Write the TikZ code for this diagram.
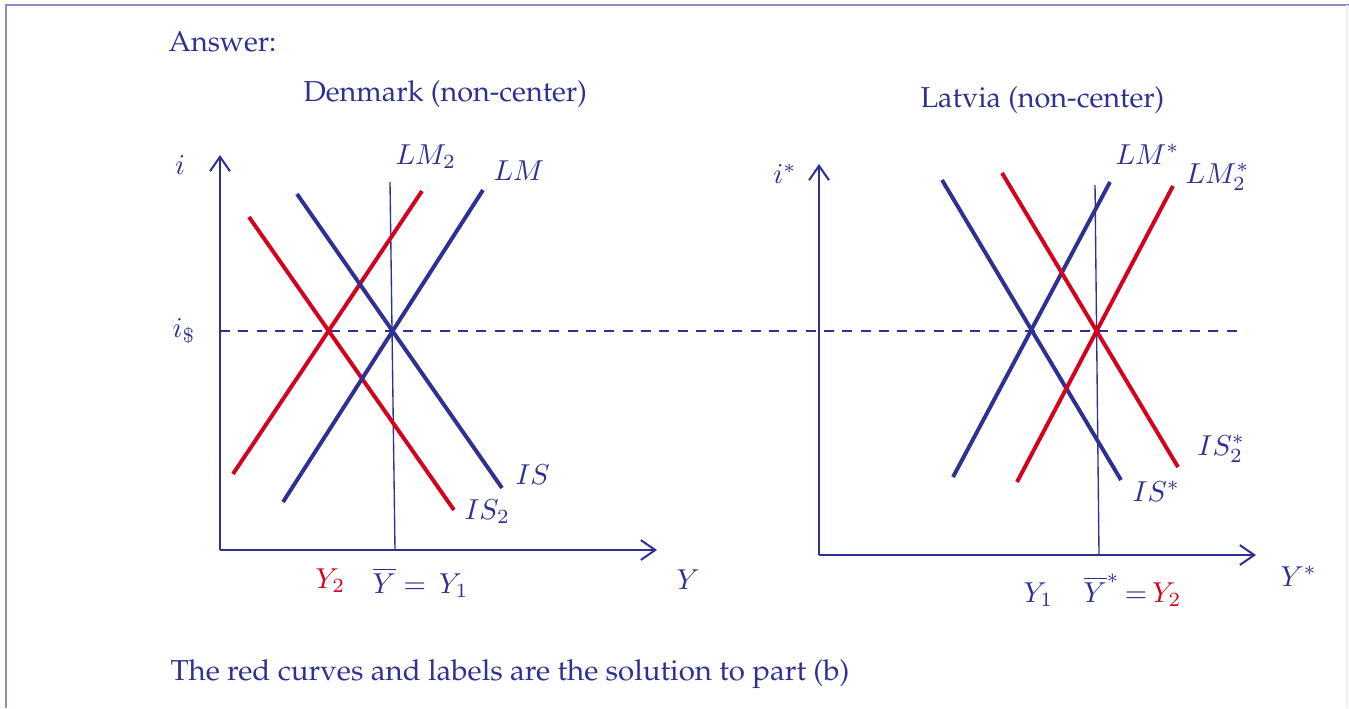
\documentclass[tikz,border=0pt]{standalone}
\usepackage[T1]{fontenc}
\renewcommand{\rmdefault}{ppl}
\usepackage{graphicx}
\usepackage{amsmath,amssymb}
\usetikzlibrary{arrows.meta}
\definecolor{econblue}{HTML}{2E3192}
\definecolor{econred}{HTML}{D5001C}
\definecolor{framecol}{HTML}{8A8AC4}
\tikzset{
  axisline/.style={econblue,line width=0.7pt,-{Straight Barb[length=5pt,width=6.9pt]}},
  bluecurve/.style={econblue,line width=1.37pt},
  redcurve/.style={econred,line width=1.37pt},
  potline/.style={econblue,line width=0.47pt},
  lbl/.style={econblue,anchor=base west,inner sep=0pt},
}

\begin{document}
\begin{tikzpicture}[x=34.7pt,y=-34.7pt]
  \useasboundingbox (0,0) rectangle (13.49,7.08);
  % frame
  \draw[framecol,line width=0.63pt] (0.06,7.08) -- (0.06,0.05) -- (13.49,0.05);
  \draw[black!6,line width=0.63pt] (13.47,0.05) -- (13.47,7.08);

  % headings
  \node[lbl] (answer) at (1.68,0.51) {Answer:};
  \node[lbl] (denmark) at (3.03,1.01) {Denmark (non-center)};
  \node[lbl] (latvia) at (9.20,1.07) {Latvia (non-center)};

  % Denmark
  \draw[axisline] (2.20,5.50) -- (2.20,1.55);
  \draw[axisline] (2.20,5.50) -- (6.57,5.50);
  \draw[econblue,line width=0.58pt,dash pattern=on 3.5pt off 2.85pt] (2.20,3.31) -- (12.38,3.31);
  \draw[potline] (3.90,1.82) -- (3.95,5.50);
  \draw[redcurve] (2.49,2.17) -- (4.54,5.10);
  \draw[redcurve] (2.33,4.74) -- (4.22,1.91);
  \draw[bluecurve] (2.97,1.94) -- (5.02,4.88);
  \draw[bluecurve] (2.83,5.02) -- (4.83,1.90);

  \node[econblue,inner sep=0pt] (ilab) at (1.80,1.65) {$i$};
  \node[lbl] (idollar) at (1.72,3.37) {$i_\$$};
  \node[lbl] (lmtwo) at (3.95,1.64) {$LM_2$};
  \node[lbl] (lm) at (4.93,1.80) {$LM$};
  \node[lbl] (is) at (5.15,4.84) {$IS$};
  \node[lbl] (istwo) at (4.64,5.19) {$IS_2$};
  \node[lbl] (ylab) at (6.76,5.89) {$Y$};
  \node[lbl,econred] (ytwo) at (3.15,5.88) {$Y_2$};
  \node[lbl] (ybar) at (3.72,5.93) {$\overline{Y} =\, Y_1$};

  % Latvia
  \draw[axisline] (8.19,5.55) -- (8.19,1.64);
  \draw[axisline] (8.19,5.55) -- (12.56,5.55);
  \draw[potline] (10.95,1.85) -- (10.99,5.55);
  \draw[bluecurve] (9.42,1.80) -- (11.21,4.80);
  \draw[bluecurve] (9.53,4.77) -- (11.10,1.82);
  \draw[redcurve] (10.02,1.73) -- (11.78,4.67);
  \draw[redcurve] (10.17,4.82) -- (11.73,1.86);

  \node[econblue,inner sep=0pt] (istar) at (7.85,1.74) {$i^*$};
  \node[lbl] (lmstar) at (11.15,1.64) {$LM^*$};
  \node[lbl] (lmtwostar) at (11.85,1.83) {$LM_2^*$};
  \node[lbl] (istwostar) at (11.97,4.55) {$IS_2^*$};
  \node[lbl] (isstar) at (11.32,5.01) {$IS^*$};
  \node[lbl] (yone) at (10.23,6.02) {$Y_1$};
  \node[lbl] (ybarstar) at (10.83,6.02) {$\overline{Y}^*\mkern-2mu=\mkern-2mu{\color{econred}Y_2}$};
  \node[lbl] (ystar) at (12.80,5.86) {$Y^*$};

  % note
  \node[lbl] (note) at (1.70,6.80) {\scalebox{1.022}[1]{The red curves and labels are the solution to part (b)}};
\end{tikzpicture}
\end{document}
